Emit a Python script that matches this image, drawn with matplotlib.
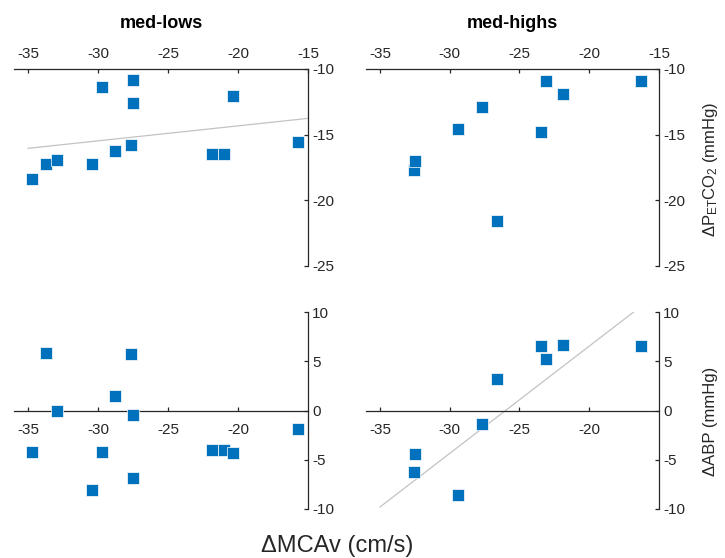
import matplotlib
matplotlib.use("Agg")
import matplotlib.pyplot as plt

plt.rcParams['font.family'] = ['Liberation Sans', 'DejaVu Sans']
plt.rcParams['axes.unicode_minus'] = False
plt.rcParams['mathtext.fontset'] = 'custom'
plt.rcParams['mathtext.rm'] = 'Liberation Sans'
plt.rcParams['mathtext.it'] = 'Liberation Sans:italic'

# ---- data ----
lows_mcav = [-34.71, -33.75, -32.92, -30.41, -29.70, -28.78, -27.66, -27.49, -27.49, -21.85, -21.02, -20.38, -15.72]
lows_pet = [-18.38, -17.26, -16.93, -17.26, -11.37, -16.27, -15.81, -10.84, -12.61, -16.50, -16.50, -12.03, -15.58]
lows_abp = [-4.21, 5.84, -0.02, -8.04, -4.21, 1.44, 5.74, -0.42, -6.85, -4.04, -4.04, -4.31, -1.84]

highs_mcav = [-32.54, -32.47, -29.42, -27.70, -26.62, -23.47, -23.09, -21.85, -16.31]
highs_pet = [-17.69, -17.03, -14.59, -12.92, -21.55, -14.80, -10.94, -11.93, -10.94]
highs_abp = [-6.28, -4.45, -8.61, -1.34, 3.20, 6.50, 5.26, 6.70, 6.50]

fit_x = [-35, -15]
lows_pet_fit = [-16.04, -13.76]
highs_abp_fit = [-9.80, 11.98]

titles = ['med-lows', 'med-highs']
xticks_top = [-35, -30, -25, -20, -15]
xticks_bottom = [-35, -30, -25, -20]
pet_ticks = [-25, -20, -15, -10]
abp_ticks = [-10, -5, 0, 5, 10]

BLUE = '#0072BD'
DARK = '#262626'
W, H = 725, 558

fig = plt.figure(figsize=(W / 100, H / 100), dpi=100)

def add_ax(l, r, t, b):
    return fig.add_axes([l / W, 1 - b / H, (r - l) / W, (b - t) / H])

ax_tl = add_ax(14, 308, 69, 266)
ax_tr = add_ax(366, 659, 69, 266)
ax_bl = add_ax(14, 308, 312, 509)
ax_br = add_ax(366, 659, 312, 509)

TICK_FS = 11

def style_common(ax):
    ax.set_facecolor('none')
    ax.set_xlim(-36, -15)
    ax.yaxis.tick_right()
    ax.spines['left'].set_visible(False)
    for s in ax.spines.values():
        s.set_color(DARK)
        s.set_linewidth(0.9)

def style_top(ax):
    style_common(ax)
    ax.set_xticks(xticks_top)
    ax.set_ylim(-25, -10)
    ax.set_yticks(pet_ticks)
    ax.xaxis.tick_top()
    ax.spines['bottom'].set_visible(False)
    ax.tick_params(axis='x', direction='in', length=3, pad=6, labelsize=TICK_FS,
                   colors=DARK, width=0.9)
    ax.tick_params(axis='y', direction='in', length=3, pad=3, labelsize=TICK_FS,
                   colors=DARK, width=0.9)

def style_bottom(ax):
    style_common(ax)
    ax.set_xticks(xticks_bottom)
    ax.set_ylim(-10, 10)
    ax.set_yticks(abp_ticks)
    ax.spines['top'].set_visible(False)
    ax.spines['bottom'].set_position(('data', 0))
    ax.tick_params(axis='x', direction='in', length=3, pad=9, labelsize=TICK_FS,
                   colors=DARK, width=0.9)
    ax.tick_params(axis='y', direction='in', length=3, pad=3, labelsize=TICK_FS,
                   colors=DARK, width=0.9)

for ax in (ax_tl, ax_tr):
    style_top(ax)
for ax in (ax_bl, ax_br):
    style_bottom(ax)

mk = dict(ls='none', marker='s', ms=8, mfc=BLUE, mec='white', mew=0.5, zorder=3)
line_kw = dict(color='#c3c3c3', lw=0.9, zorder=2)

ax_tl.plot(fit_x, lows_pet_fit, **line_kw)
ax_tl.plot(lows_mcav, lows_pet, **mk)
ax_tr.plot(highs_mcav, highs_pet, **mk)
ax_bl.plot(lows_mcav, lows_abp, **mk)
ax_br.plot(fit_x, highs_abp_fit, **line_kw)
ax_br.plot(highs_mcav, highs_abp, **mk)

for ax, t in zip((ax_tl, ax_tr), titles):
    ax.text(0.5, 1 + 46 / 197, t, transform=ax.transAxes, ha='center', va='center',
            fontsize=13, fontweight='bold', color='black')

fig.text(711 / W, 1 - 169 / H,
         'ΔP$_{\\mathregular{ET}}$CO$_{\\mathregular{2}}$ (mmHg)',
         rotation=90, ha='center', va='center', fontsize=12, color=DARK)
fig.text(711 / W, 1 - 421 / H, 'ΔABP (mmHg)',
         rotation=90, ha='center', va='center', fontsize=12, color=DARK)

fig.text(337 / W, 1 - 546 / H, 'ΔMCAv (cm/s)', ha='center', va='center',
         fontsize=17, color=DARK)

fig.savefig('out.png', dpi=100, facecolor='white')
